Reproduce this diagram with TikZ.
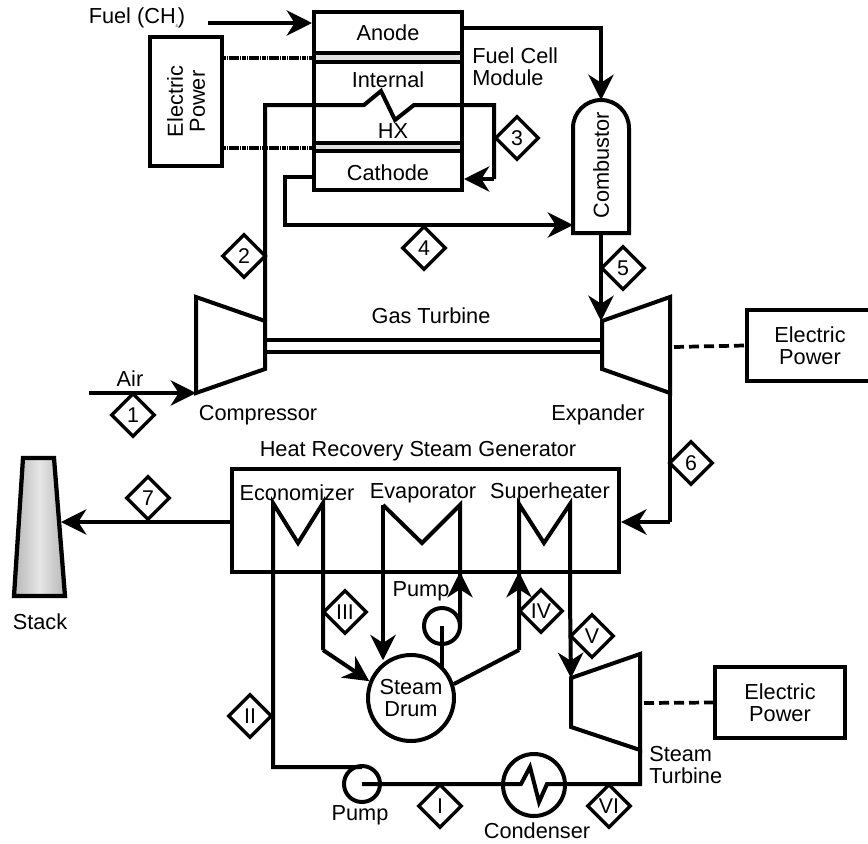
\documentclass[tikz,border=0pt]{standalone}
\usepackage{fontspec}
\setmainfont{Liberation Sans}
\usetikzlibrary{arrows.meta,shapes.geometric}
\tikzset{
    pipe/.style={line width=3pt, line join=miter},
    flow/.style={pipe, -{Stealth[length=19pt,width=19pt,inset=6pt]}},
    wire/.style={line width=2.8pt, dash pattern=on 7.5pt off 3.75pt},
    celllink/.style={line width=2.8pt, dash pattern=on 3pt off 0.5pt on 1pt off 0.5pt},
    lbl/.style={font=\fontsize{16.3}{16.5}\selectfont, align=center, inner sep=0pt},
    box/.style={draw, pipe, inner sep=0pt, fill=white},
    strip/.style={draw, pipe, inner sep=0pt, fill=black!12, minimum width=111pt, minimum height=6.4pt},
    tag/.style={draw, line width=2.6pt, diamond, fill=white, inner sep=0pt, minimum width=33pt, minimum height=33pt, font=\fontsize{16}{16}\selectfont},
    wheel/.style={draw, pipe, circle, inner sep=0pt}
}
\begin{document}
\begin{tikzpicture}[x=0.75pt,y=-0.75pt]
    \useasboundingbox (0,0) rectangle (868,843);

    % stream numbers
    \node[tag] (s1) at (133,415) {1};
    \node[tag] (s2) at (244,256) {2};
    \node[tag] (s3) at (517,138) {3};
    \node[tag] (s4) at (424,248) {4};
    \node[tag] (s5) at (623,268) {5};
    \node[tag] (s6) at (691,463) {6};
    \node[tag] (s7) at (148,498) {7};
    \node[tag] (rI) at (440,806) {I};
    \node[tag] (rII) at (250,716) {II};
    \node[tag] (rIII) at (345,612) {III};
    \node[tag] (rIV) at (541,611) {IV};
    \node[tag] (rV) at (592,636) {V};
    \node[tag] (rVI) at (609,806) {VI};

    % fuel cell module
    \node[box, minimum width=111pt, minimum height=30.75pt] (anode) at (388,32.5) {};
    \node[box, minimum width=111pt, minimum height=60.75pt] (hxcell) at (388,102.5) {};
    \node[box, minimum width=111pt, minimum height=29.25pt] (cathode) at (388,170.5) {};
    \node[strip] (upperstrip) at (388,57.5) {};
    \node[strip] (lowerstrip) at (388,147) {};
    \node[lbl] (anodetxt) at (anode) {Anode};
    \node[lbl] (internaltxt) at (388,80) {Internal};
    \node[lbl] (hxtxt) at (393,131) {HX};
    \node[lbl] (cathodetxt) at (388,173) {Cathode};
    \node[lbl, align=left, anchor=west] (moduletxt) at (472,67) {Fuel Cell\\Module};

    % electric power boxes
    \node[box, minimum width=54pt, minimum height=96.75pt] (powerA) at (186,101.5) {};
    \node[lbl, rotate=90] (powerAtxt) at (powerA) {Electric\\Power};
    \node[box, lbl, minimum width=94.5pt, minimum height=53pt] (powerB) at (810,345.5) {Electric\\Power};
    \node[box, lbl, minimum width=97.5pt, minimum height=53pt] (powerC) at (780,702.5) {Electric\\Power};
    \draw[celllink] (222,58) coordinate (linkA) -- (upperstrip.west |- linkA);
    \draw[celllink] (222,148) coordinate (linkB) -- (lowerstrip.west |- linkB);

    % combustor
    \coordinate (combtop) at (601,100);
    \coordinate (combleft) at (573,225);
    \draw[pipe, fill=white] (573,233) -- (573,128) arc (180:360:28) -- (629,233) -- cycle;
    \node[lbl, rotate=90] (combtxt) at (601,165) {Combustor};

    % compressor, expander, steam turbine
    \coordinate (compA) at (196,297);
    \coordinate (compB) at (265,321);
    \coordinate (compC) at (265,369);
    \coordinate (compD) at (196,393);
    \draw[pipe, line join=miter] (compA) -- (compB) -- (compC) -- (compD) -- cycle;
    \coordinate (expA) at (602,321);
    \coordinate (expB) at (670,297);
    \coordinate (expC) at (670,393);
    \coordinate (expD) at (602,369);
    \draw[pipe] (expA) -- (expB) -- (expC) -- (expD) -- cycle;
    \coordinate (turbA) at (571,678);
    \coordinate (turbB) at (640,654);
    \coordinate (turbC) at (640,750);
    \coordinate (turbD) at (571,727);
    \draw[pipe] (turbA) -- (turbB) -- (turbC) -- (turbD) -- cycle;
    \draw[line width=2.8pt] (265,340) -- (602,340);
    \draw[line width=2.8pt] (265,352) -- (602,352);
    \draw[wire] (674,347) -- (powerB.west);
    \draw[wire] (644,703) -- (powerC.west);

    % heat recovery steam generator
    \node[box, fill=none, minimum width=290.5pt, minimum height=77pt] (hrsg) at (425.5,520.5) {};
    \node[lbl] (hrsgtxt) at (418,451) {Heat Recovery Steam Generator};
    \node[lbl] (ecotxt) at (297,493) {Economizer};
    \node[lbl] (evaptxt) at (423,493) {Evaporator};
    \node[lbl] (suptxt) at (550,493) {Superheater};

    % stack
    \shade[left color=black!28, right color=black!28, middle color=black!10] (23,458) -- (54,458) -- (65,596) -- (14,596) -- cycle;
    \draw[line width=3.2pt] (23,458) -- (54,458) -- (65,596) -- (14,596) -- cycle;
    \coordinate (stackin) at (61,522);
    \node[lbl] (stacktxt) at (40,622) {Stack};

    % drum, pumps, condenser
    \node[wheel, fill=white, minimum size=64.5pt] (drum) at (411,698) {};
    \node[lbl] (drumtxt) at (drum) {Steam\\Drum};
    \node[wheel, minimum size=27pt] (pumpA) at (442,626) {};
    \node[wheel, minimum size=27pt] (pumpB) at (362,784) {};
    \node[wheel, minimum size=46.5pt] (cond) at (534,785) {};

    % gas side
    \coordinate (fuelin) at (208,23);
    \draw[flow] (fuelin) -- (anode.west |- fuelin);
    \draw[flow] (anode.east |- 0,28) -| (combtop);
    \draw[pipe] (compB) -- (265,105) -- (364,105) -- (381,91) -- (395,120) -- (414,105) -- (494,105) -- (494,179) coordinate (backin);
    \draw[flow] (backin) -- (cathode.east |- backin);
    \draw[flow] (cathode.west |- 0,177) -- (285,177) -- (285,225) -- (combleft);
    \draw[flow] (601,233) -- (601,321);
    \coordinate (airin) at (89,393);
    \draw[flow] (airin) -- (compD);
    \draw[pipe] (expC) -- (670,522) coordinate (hotin);
    \draw[flow] (hotin) -- (hrsg.east |- hotin);
    \draw[flow] (hrsg.west |- 0,522) -- (stackin);

    % water side
    \draw[pipe] (362,767) -- (273,767) -- (273,503) -- (298,543) -- (323,503) -- (323,650) coordinate (ecoout);
    \draw[flow] (ecoout) -- (drum.158);
    \draw[flow] (383,505) coordinate (evapin) -- (drum.123 -| evapin);
    \draw[pipe] (evapin) -- (422,543) -- (460,505) -- (460,626) coordinate (pumpout);
    \draw[flow] (pumpout) -- (460,572);
    \draw[pipe] (pumpA.center) -- (442,668);
    \draw[pipe] (drum.18) -- (519,650) coordinate (supin);
    \draw[flow] (supin) -- (519,572);
    \draw[pipe] (supin) -- (519,504) -- (544,543) -- (570,504) -- (570,600) coordinate (supout);
    \draw[flow] (supout) -- (turbA);
    \draw[pipe] (pumpB.center) -- (521,784) -- (530,767) -- (539,802) -- (547,784) -- (640,784) -- (turbC);

    % other labels
    \node[lbl] (fueltxt) at (137,18) {Fuel (CH\raisebox{-3pt}{\fontsize{3}{3}\selectfont 4})};
    \node[lbl] (gastxt) at (431,316) {Gas Turbine};
    \node[lbl] (airtxt) at (130,379) {Air};
    \node[lbl] (comptxt) at (258,415) {Compressor};
    \node[lbl] (exptxt) at (598,415) {Expander};
    \node[lbl] (pumpAtxt) at (421,591) {Pump};
    \node[lbl] (pumpBtxt) at (360,815) {Pump};
    \node[lbl] (condtxt) at (537,831) {Condenser};
    \node[lbl, align=left, anchor=west] (turbtxt) at (649,765) {Steam\\Turbine};
\end{tikzpicture}
\end{document}
